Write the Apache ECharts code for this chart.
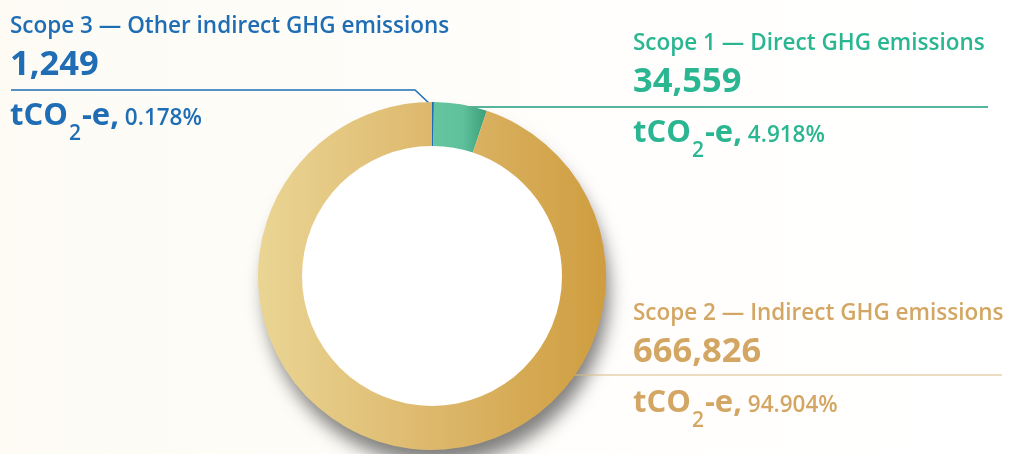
<!DOCTYPE html>
<html>
<head>
<meta charset="utf-8">
<script src="https://cdn.jsdelivr.net/npm/echarts@6/dist/echarts.min.js"></script>
<style>
html,body{margin:0;padding:0;background:#fff;}
#chart{width:1010px;height:454px;}
</style>
</head>
<body>
<div id="chart"></div>
<script>
// ---- data ----
const categories = ['Scope 3 — Other indirect GHG emissions', 'Scope 1 — Direct GHG emissions', 'Scope 2 — Indirect GHG emissions'];
const values = [1249, 34559, 666826];
const valueLabels = ['1,249', '34,559', '666,826'];
const percentLabels = ['0.178%', '4.918%', '94.904%'];
const unitLabel = 'tCO';

// ---- styles / layout (separate from data) ----
const textColors = ['#1F6DB5', '#2BB692', '#D3A763'];
const lineColors = ['#1F6DB5', '#1E9C7C', '#D9BB82'];
const lineWidths = [1.5, 1.5, 1.2];
const labelPos = [[10, 11], [633, 28], [633, 298]];
const linePts = [
  [[430, 104], [415, 90], [11, 90]],
  [[466, 107], [700, 107], [988, 107]],
  [[574, 375], [800, 375], [1002, 375]]
];
const fills = [
  '#1F6DB5',
  new echarts.graphic.LinearGradient(0, 0, 1, 0, [
    {offset: 0, color: '#63C6A0'}, {offset: 0.55, color: '#5EC19B'}, {offset: 1, color: '#3A9E78'}
  ]),
  new echarts.graphic.LinearGradient(0, 0, 1, 0, [
    {offset: 0, color: '#EAD594'}, {offset: 0.5, color: '#DDB86C'}, {offset: 1, color: '#CF9D3F'}
  ])
];

const chart = echarts.init(document.getElementById('chart'), null, {renderer: 'canvas'});
const FONT = '"Open Sans"';

function richFor(i) {
  const c = textColors[i];
  return {
    t: {fontFamily: FONT, fontSize: 22.5, fontWeight: 600, color: c, lineHeight: 32},
    n: {fontFamily: FONT, fontSize: 34.5, fontWeight: 700, color: c, lineHeight: 44},
    u: {fontFamily: FONT, fontSize: 31, fontWeight: 700, color: c, lineHeight: 58},
    s: {fontFamily: FONT, fontSize: 21, fontWeight: 600, color: c, lineHeight: 58, padding: [36, 1, 0, 1]},
    p: {fontFamily: FONT, fontSize: 22.5, fontWeight: 600, color: c, lineHeight: 58, padding: [5, 0, 0, 0]}
  };
}

const data = categories.map((name, i) => ({
  name: name,
  value: values[i],
  itemStyle: {color: fills[i]},
  label: {
    formatter: () => '{t|' + name + '}\n{n|' + valueLabels[i] + '}\n{u|' + unitLabel + '}{s|2}{u|-e,}{p| ' + percentLabels[i] + '}',
    rich: richFor(i)
  },
  labelLine: {lineStyle: {color: lineColors[i], width: lineWidths[i]}}
}));

chart.setOption({
  backgroundColor: new echarts.graphic.LinearGradient(0, 0, 1, 0, [
    {offset: 0, color: '#FDFBF4'}, {offset: 0.6, color: '#FFFEFC'}, {offset: 1, color: '#FFFFFF'}
  ]),
  animation: false,
  series: [
    {
      type: 'pie',
      silent: true,
      center: [432, 276],
      radius: [0, 172],
      label: {show: false},
      labelLine: {show: false},
      itemStyle: {color: '#FFFFFF', shadowBlur: 18, shadowColor: 'rgba(0,0,0,0.5)', shadowOffsetX: 5, shadowOffsetY: 16},
      data: [{value: 1, name: 'bg'}],
      z: 1
    },
    {
      type: 'pie',
      center: [432, 276],
      radius: [130, 174],
      startAngle: 90,
      clockwise: true,
      avoidLabelOverlap: false,
      minAngle: 0,
      label: {show: true, position: 'outside', align: 'left'},
      labelLine: {show: true, length: 10, length2: 10, smooth: false},
      labelLayout: function (params) {
        const i = params.dataIndex;
        return {
          x: labelPos[i][0],
          y: labelPos[i][1],
          align: 'left',
          verticalAlign: 'top',
          labelLinePoints: linePts[i]
        };
      },
      data: data,
      z: 2
    }
  ]
});
</script>
</body>
</html>
